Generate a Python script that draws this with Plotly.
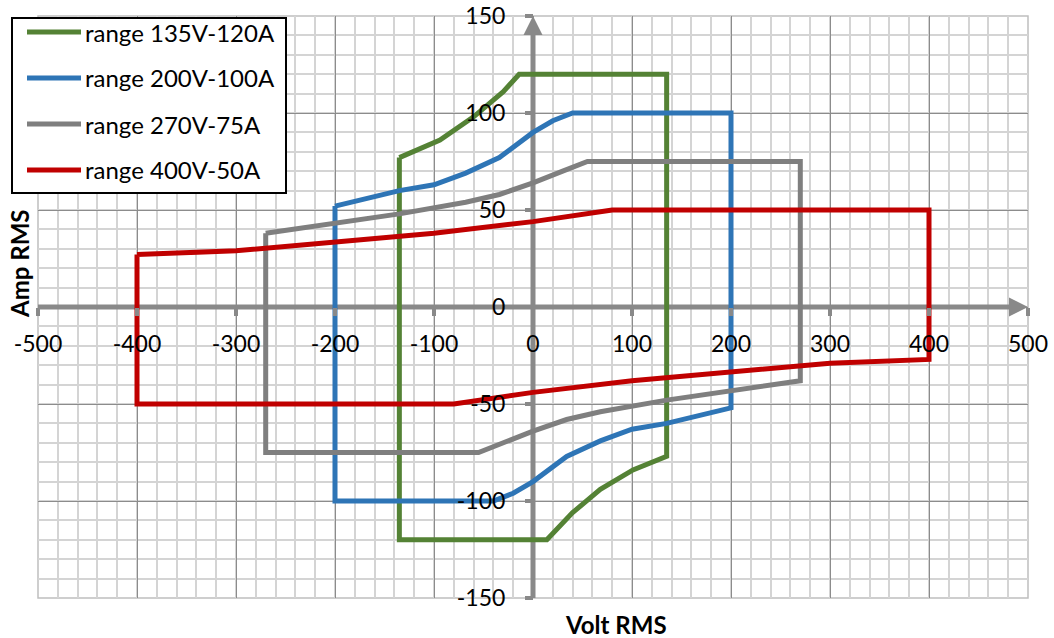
import plotly.graph_objects as go

# ---- data (Volt RMS, Amp RMS) ----
names = ["range 135V-120A", "range 200V-100A", "range 270V-75A", "range 400V-50A"]
colors = ["#548235", "#2E75B6", "#7F7F7F", "#C00000"]

green_v = [-135, -135, 14, 40, 68, 101, 135, 135, -14, -30, -60, -94, -135]
green_a = [77, -120, -120, -106, -94, -84, -77, 120, 120, 111, 98, 86, 77]

blue_v = [-200, -200, -40, -20, 0, 34, 68, 100, 135, 200, 200, 40, 20, 0, -34, -68, -100, -135, -200]
blue_a = [52, -100, -100, -96, -90, -77, -69, -63, -60, -52, 100, 100, 96, 90, 77, 69, 63, 60, 52]

gray_v = [-270, -270, -55, -30, 0, 34, 68, 135, 200, 270, 270, 55, 30, 0, -34, -68, -135, -200, -270]
gray_a = [38, -75, -75, -70, -64, -58, -54, -48, -43, -38, 75, 75, 70, 64, 58, 54, 48, 43, 38]

red_v = [-400, -400, -80, -40, 0, 100, 200, 300, 400, 400, 80, 40, 0, -100, -200, -300, -400]
red_a = [27, -50, -50, -47, -44, -38, -33.5, -29, -27, 50, 50, 47, 44, 38, 33.5, 29, 27]

series = [(green_v, green_a), (blue_v, blue_a), (gray_v, gray_a), (red_v, red_a)]

x_ticks = [-500, -400, -300, -200, -100, 0, 100, 200, 300, 400, 500]
y_ticks = [-150, -100, -50, 0, 50, 100, 150]

FONT = "Lato"
AXIS_GRAY = "#898989"

fig = go.Figure()
for (v, a), n, c in zip(series, names, colors):
    fig.add_trace(go.Scatter(x=v, y=a, mode="lines", name=n,
                             line=dict(color=c, width=5), showlegend=False,
                             hoverinfo="skip"))

fig.update_layout(
    width=1054, height=638,
    margin=dict(l=38, r=26, t=16, b=40, autoexpand=False),
    paper_bgcolor="white", plot_bgcolor="white",
    font=dict(family=FONT, size=23, color="black"),
    xaxis=dict(range=[-500, 500], tickvals=x_ticks, ticktext=[str(t) for t in x_ticks],
               anchor="free", position=0.5, showline=False, zeroline=False, automargin=False,
               showgrid=True, gridcolor="#8c8c8c", gridwidth=1,
               minor=dict(dtick=20, tick0=0, showgrid=True, gridcolor="#d4d4d4", gridwidth=1.5),
               ticks="outside", ticklen=8, tickwidth=4, tickcolor=AXIS_GRAY,
               ticklabelstandoff=8, tickfont=dict(size=23), fixedrange=True),
    yaxis=dict(range=[-150, 150], tickvals=y_ticks, ticktext=[str(t) for t in y_ticks],
               anchor="free", position=0.5, showline=False, zeroline=False, automargin=False,
               showgrid=True, gridcolor="#8c8c8c", gridwidth=1,
               minor=dict(dtick=10, tick0=0, showgrid=True, gridcolor="#d4d4d4", gridwidth=1.5),
               ticks="outside", ticklen=8, tickwidth=4, tickcolor=AXIS_GRAY,
               ticklabelstandoff=15, tickfont=dict(size=23), fixedrange=True),
)

# plot frame
fig.add_shape(type="rect", xref="paper", yref="paper", x0=0, y0=0, x1=1, y1=1,
              line=dict(color="#bfbfbf", width=1.5), layer="between")
# axis lines through zero
fig.add_shape(type="line", xref="x", yref="y", x0=-500, y0=0, x1=490, y1=0,
              line=dict(color=AXIS_GRAY, width=5), layer="between")
fig.add_shape(type="line", xref="x", yref="y", x0=0, y0=-150, x1=0, y1=145,
              line=dict(color=AXIS_GRAY, width=5), layer="between")
# arrow heads
fig.add_annotation(x=500, y=0, xref="x", yref="y", ax=-22, ay=0, text="", showarrow=True,
                   arrowhead=2, arrowsize=0.95, arrowwidth=4, arrowcolor=AXIS_GRAY)
fig.add_annotation(x=0, y=150, xref="x", yref="y", ax=0, ay=22, text="", showarrow=True,
                   arrowhead=2, arrowsize=0.95, arrowwidth=4, arrowcolor=AXIS_GRAY)


# helpers: screenshot pixel -> paper coordinates
def px_x(p):
    return (p - 38) / 990.0


def px_y(p):
    return (598 - p) / 582.0


# axis titles
fig.add_annotation(text="<b>Volt RMS</b>", xref="paper", yref="paper", x=px_x(616), y=px_y(624),
                   showarrow=False, font=dict(size=24), xanchor="center", yanchor="middle")
fig.add_annotation(text="<b>Amp RMS</b>", xref="paper", yref="paper", x=px_x(19), y=px_y(264),
                   showarrow=False, font=dict(size=24), textangle=-90,
                   xanchor="center", yanchor="middle")

# legend (drawn manually to match box layout)
fig.add_shape(type="rect", xref="paper", yref="paper",
              x0=px_x(12), y0=px_y(193), x1=px_x(286), y1=px_y(18),
              line=dict(color="black", width=2), fillcolor="white", layer="above")
rows = [32, 78, 124, 170]
for n, c, r in zip(names, colors, rows):
    fig.add_shape(type="line", xref="paper", yref="paper",
                  x0=px_x(27), x1=px_x(81), y0=px_y(r), y1=px_y(r),
                  line=dict(color=c, width=5), layer="above")
    fig.add_annotation(text=n, xref="paper", yref="paper", x=px_x(83), y=px_y(r),
                       xanchor="left", yanchor="middle", showarrow=False,
                       font=dict(size=24))

# remove the default 8px page margin so the figure sits at the window's top-left
fig.write_html("out.html", config={"displayModeBar": False},
               post_script="document.body.style.margin='0px';")
